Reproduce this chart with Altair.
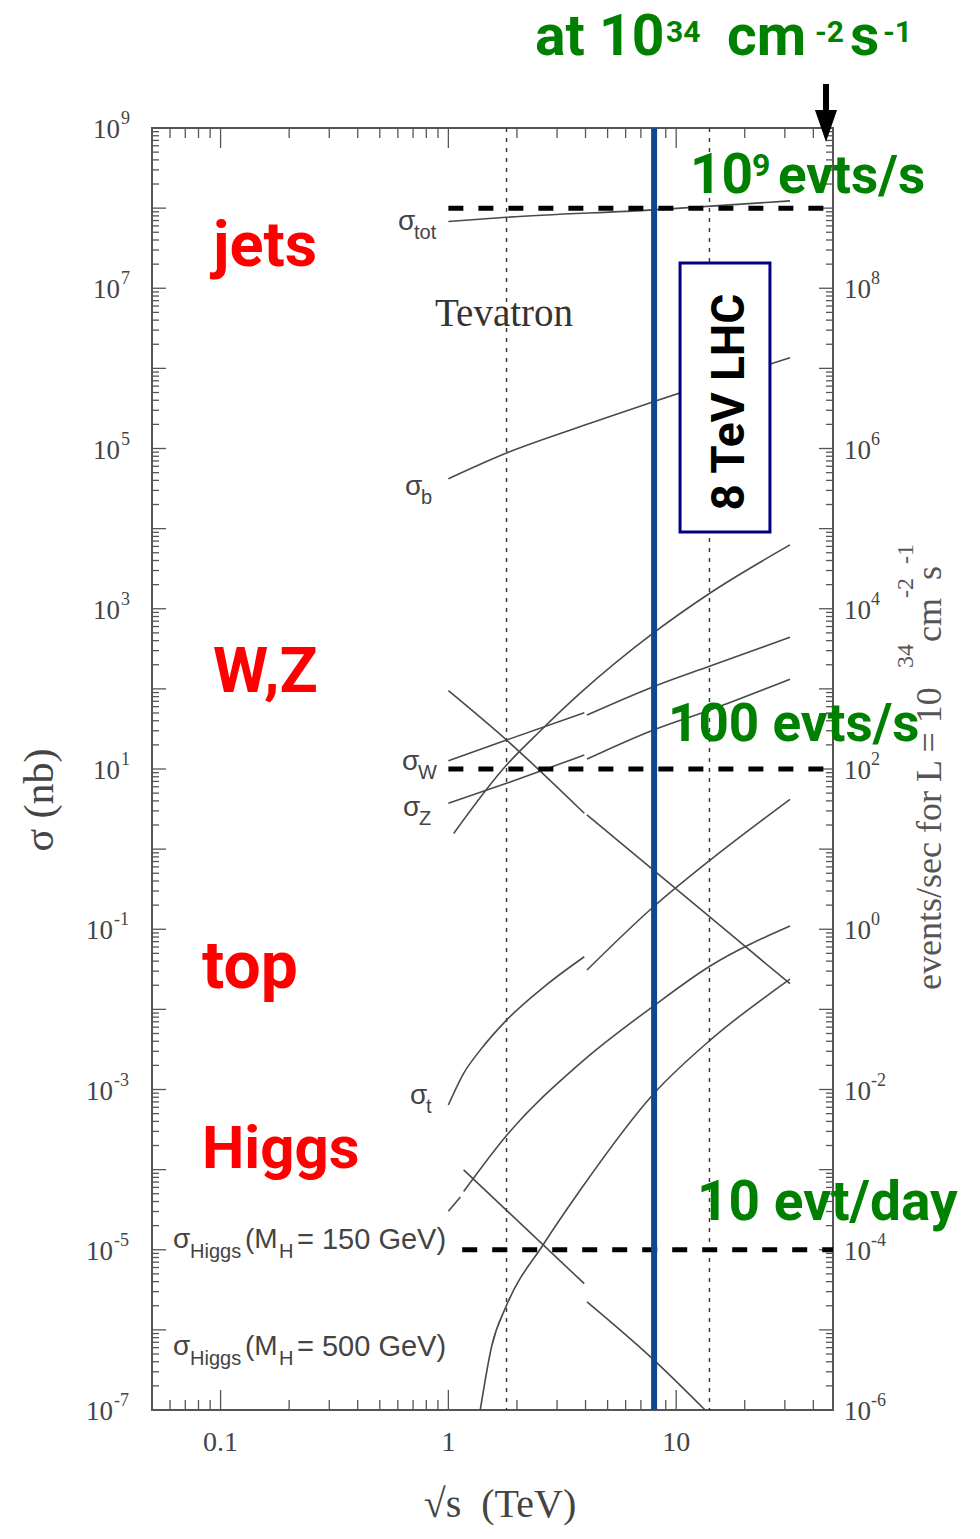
import altair as alt
import pandas as pd

# ---------------- data ----------------
XMIN, XMAX = 0.05, 48.8
YMIN, YMAX = 1e-7, 1e9
W, H = 681, 1282

TOT_X = [1.0, 1.8, 8.0, 31.6]
TOT_Y = [6.8e7, 7.7e7, 9.5e7, 1.23e8]
B_X = [1.0, 1.8, 3.8, 8.0, 31.6]
B_Y = [4.2e4, 8.8e4, 1.88e5, 3.85e5, 1.36e6]
JET_X = [1.055, 1.8, 2.53, 3.8, 7.95, 14.1, 31.6]
JET_Y = [1.57, 11.2, 29.8, 88.9, 499, 1574, 6260]
W_PPBAR_X = [1.0, 1.8, 3.95]
W_PPBAR_Y = [12.7, 23.0, 50.5]
W_PP_X = [4.06, 7.95, 14.1, 31.6]
W_PP_Y = [47.2, 106.6, 193, 441]
Z_PPBAR_X = [1.0, 1.8, 3.95]
Z_PPBAR_Y = [3.73, 6.63, 15.0]
Z_PP_X = [4.06, 7.95, 14.1, 31.6]
Z_PP_Y = [13.3, 30.7, 54.5, 132]
JD_PPBAR_X = [1.0, 1.8, 3.95]
JD_PPBAR_Y = [95, 23.0, 2.80]
JD_PP_X = [4.06, 7.95, 20.4, 31.6]
JD_PP_Y = [2.67, 0.548, 0.0588, 0.0209]
T_PPBAR_X = [1.0, 1.167, 1.38, 1.8, 2.71, 3.95]
T_PPBAR_Y = [6.4e-4, 1.59e-3, 3.1e-3, 7.35e-3, 0.0205, 0.0454]
T_PP_X = [4.06, 7.95, 14.1, 31.6]
T_PP_Y = [0.031, 0.191, 0.731, 4.19]
H150_A_X = [1.0, 1.129]
H150_A_Y = [3.03e-5, 4.56e-5]
H150_B_X = [1.167, 1.8, 3.8, 7.95, 14.1, 31.6]
H150_B_Y = [5.33e-5, 2.67e-4, 2.14e-3, 0.011, 0.0348, 0.1096]
H500_X = [1.38, 1.55, 1.8, 2.62, 3.8, 7.95, 14.1, 31.6]
H500_Y = [1e-7, 6.3e-7, 2.02e-6, 1.18e-5, 5.61e-5, 8.8e-4, 4.13e-3, 0.0238]
J4_PPBAR_X = [1.167, 3.95]
J4_PPBAR_Y = [9.93e-5, 3.77e-6]
J4_PP_X = [4.06, 7.95, 13.4]
J4_PP_Y = [2.24e-6, 4.26e-7, 1e-7]

HLINE_Y = [1e8, 10, 1e-5]
HLINE_X0 = [1.0, 1.0, 1.15]
VLINE_X = [1.8, 14.0]
LHC8_X = [8.0]
BOX_X = [10.4, 25.8]
BOX_Y = [2.07e7, 9.1e3]

LEFT_EXP = [9, 7, 5, 3, 1, -1, -3, -5, -7]
RIGHT_EXP = [8, 6, 4, 2, 0, -2, -4, -6]
X_LABELS = [0.1, 1, 10]
X_LABEL_TEXT = ["0.1", "1", "10"]

X_MAJOR = [0.1, 1, 10]
X_MINOR = [0.06, 0.07, 0.08, 0.09, 0.2, 0.3, 0.4, 0.5, 0.6, 0.7, 0.8, 0.9,
           2, 3, 4, 5, 6, 7, 8, 9, 20, 30, 40]
Y_MAJOR = [10.0 ** e for e in range(-7, 10)]
Y_MINOR = [m * 10.0 ** e for e in range(-7, 9) for m in range(2, 10)]

# ---------------- build tables ----------------
segs = [
    ("tot", TOT_X, TOT_Y), ("b", B_X, B_Y), ("jet", JET_X, JET_Y),
    ("w1", W_PPBAR_X, W_PPBAR_Y), ("w2", W_PP_X, W_PP_Y),
    ("z1", Z_PPBAR_X, Z_PPBAR_Y), ("z2", Z_PP_X, Z_PP_Y),
    ("jd1", JD_PPBAR_X, JD_PPBAR_Y), ("jd2", JD_PP_X, JD_PP_Y),
    ("t1", T_PPBAR_X, T_PPBAR_Y), ("t2", T_PP_X, T_PP_Y),
    ("h1a", H150_A_X, H150_A_Y), ("h1b", H150_B_X, H150_B_Y),
    ("h5", H500_X, H500_Y),
    ("j41", J4_PPBAR_X, J4_PPBAR_Y), ("j42", J4_PP_X, J4_PP_Y),
]
rows = []
for name, xs_, ys_ in segs:
    for i, (a, b) in enumerate(zip(xs_, ys_)):
        rows.append({"seg": name, "x": a, "y": b, "i": i})
curves = pd.DataFrame(rows)

xs = alt.Scale(type="log", domain=[XMIN, XMAX], nice=False)
ys = alt.Scale(type="log", domain=[YMIN, YMAX], nice=False)
AX = "#555555"
GREY = "#444444"
SANS = "Liberation Sans"
SERIF = "Liberation Serif"
BOLD = "Roboto"
GREEN = "#008000"
RED = "#ff0000"

X = lambda f: alt.X(f, scale=xs, axis=None)
Y = lambda f: alt.Y(f, scale=ys, axis=None)

dummy = pd.DataFrame({"d": [0]})


def txt(s, x, y, size, font, color, weight="normal", align="left",
        baseline="alphabetic", angle=0):
    return alt.Chart(dummy).mark_text(
        text=s, fontSize=size, font=font, color=color, fontWeight=weight,
        align=align, baseline=baseline, angle=angle
    ).encode(x=alt.value(x), y=alt.value(y))


layers = []

# ticks (inward)
ymaj = pd.DataFrame({"v": Y_MAJOR})
ymin = pd.DataFrame({"v": Y_MINOR})
xmaj = pd.DataFrame({"v": X_MAJOR})
xmin = pd.DataFrame({"v": X_MINOR})
for d, L in ((ymaj, 14), (ymin, 7)):
    layers.append(alt.Chart(d).mark_rule(color=AX, strokeWidth=1.3).encode(
        y=Y("v:Q"), x=alt.value(0), x2=alt.value(L)))
    layers.append(alt.Chart(d).mark_rule(color=AX, strokeWidth=1.3).encode(
        y=Y("v:Q"), x=alt.value(W), x2=alt.value(W - L)))
for d, L in ((xmaj, 20), (xmin, 10)):
    layers.append(alt.Chart(d).mark_rule(color=AX, strokeWidth=1.3).encode(
        x=X("v:Q"), y=alt.value(H), y2=alt.value(H - L)))
    layers.append(alt.Chart(d).mark_rule(color=AX, strokeWidth=1.3).encode(
        x=X("v:Q"), y=alt.value(0), y2=alt.value(L)))

# dotted collider lines
layers.append(alt.Chart(pd.DataFrame({"x": VLINE_X})).mark_rule(
    color="#333333", strokeWidth=1.4, strokeDash=[4, 6]).encode(x=X("x:Q")))

# curves
layers.append(alt.Chart(curves).mark_line(
    color="#4a4a4a", strokeWidth=1.6, interpolate="monotone").encode(
    x=X("x:Q"), y=Y("y:Q"), detail="seg:N", order="i:Q"))

# dashed rate lines
hl = pd.DataFrame({"y": HLINE_Y, "x0": HLINE_X0, "x1": [XMAX] * len(HLINE_Y)})
layers.append(alt.Chart(hl).mark_rule(
    color="black", strokeWidth=5, strokeDash=[15, 15]).encode(
    x=X("x0:Q"), x2="x1:Q", y=Y("y:Q")))

# 8 TeV blue line
layers.append(alt.Chart(pd.DataFrame({"x": LHC8_X})).mark_rule(
    color="#0b4a8c", strokeWidth=6).encode(x=X("x:Q")))

# LHC box
box = pd.DataFrame({"x0": [BOX_X[0]], "x1": [BOX_X[1]], "y0": [BOX_Y[0]], "y1": [BOX_Y[1]]})
layers.append(alt.Chart(box).mark_rect(
    fill="white", stroke="#000080", strokeWidth=3).encode(
    x=X("x0:Q"), x2="x1:Q", y=Y("y0:Q"), y2="y1:Q"))
layers.append(txt("8 TeV LHC", 578, 274, 46, BOLD, "black", "bold",
                  align="center", baseline="middle", angle=270))

# left axis labels
lab = pd.DataFrame({"v": [10.0 ** e for e in LEFT_EXP], "e": [str(e) for e in LEFT_EXP],
                    "neg": [e < 0 for e in LEFT_EXP]})
for neg, xb in ((False, -32), (True, -39)):
    sub = lab[lab["neg"] == neg]
    layers.append(alt.Chart(sub).mark_text(
        text="10", font=SERIF, fontSize=27, color=GREY, align="right",
        baseline="middle", dy=2).encode(y=Y("v:Q"), x=alt.value(xb)))
    layers.append(alt.Chart(sub).mark_text(
        font=SERIF, fontSize=18, color=GREY, align="left",
        baseline="middle", dy=-9).encode(y=Y("v:Q"), x=alt.value(xb + 1), text="e:N"))

# right axis labels
rlab = pd.DataFrame({"v": [10.0 ** (e - 1) for e in RIGHT_EXP], "e": [str(e) for e in RIGHT_EXP]})
layers.append(alt.Chart(rlab).mark_text(
    text="10", font=SERIF, fontSize=27, color=GREY, align="left",
    baseline="middle", dy=2).encode(y=Y("v:Q"), x=alt.value(W + 11)))
layers.append(alt.Chart(rlab).mark_text(
    font=SERIF, fontSize=18, color=GREY, align="left",
    baseline="middle", dy=-9).encode(y=Y("v:Q"), x=alt.value(W + 38), text="e:N"))

# bottom labels
blab = pd.DataFrame({"v": X_LABELS, "t": X_LABEL_TEXT})
layers.append(alt.Chart(blab).mark_text(
    font=SERIF, fontSize=28, color=GREY, align="center", baseline="middle").encode(
    x=X("v:Q"), y=alt.value(H + 33), text="t:N"))

# axis titles
layers.append(txt("\u221as\u00a0\u00a0(TeV)", 348, 1377, 40, SERIF, GREY,
                  align="center", baseline="middle"))
layers.append(txt("\u03c3 (nb)", -112, 672, 42, SERIF, GREY,
                  align="center", baseline="middle", angle=270))
layers.append(txt("events/sec for L = 10", 778, 862, 36, SERIF, "#555555",
                  baseline="middle", angle=270))
layers.append(txt("34", 754, 540, 24, SERIF, "#555555", baseline="middle", angle=270))
layers.append(txt("cm", 778, 514, 36, SERIF, "#555555", baseline="middle", angle=270))
layers.append(txt("-2", 754, 470, 24, SERIF, "#555555", baseline="middle", angle=270))
layers.append(txt("s", 778, 452, 36, SERIF, "#555555", baseline="middle", angle=270))
layers.append(txt("-1", 754, 436, 24, SERIF, "#555555", baseline="middle", angle=270))

# curve labels
def sig(x, y, sub, dx=16, dy=11):
    return [txt("\u03c3", x, y, 28, SANS, GREY, baseline="middle"),
            txt(sub, x + dx, y + dy, 20, SANS, GREY, baseline="middle")]

layers += sig(246, 94, "tot")
layers += sig(253, 359, "b")
layers += sig(250, 634, "W")
layers += sig(251, 680, "Z")
layers += sig(258, 968, "t")
for yy, m in ((1112, "150"), (1219, "500")):
    layers += [txt("\u03c3", 21, yy, 28, SANS, GREY, baseline="middle"),
               txt("Higgs", 38, yy + 12, 20, SANS, GREY, baseline="middle"),
               txt("(M", 93, yy, 28, SANS, GREY, baseline="middle"),
               txt("H", 127, yy + 12, 20, SANS, GREY, baseline="middle"),
               txt("= " + m + " GeV)", 145, yy, 29, SANS, GREY, baseline="middle")]
layers.append(txt("Tevatron", 283, 198, 39, SERIF, "#333333"))

# red process labels
layers.append(txt("jets", 61, 138, 63, BOLD, RED, "bold"))
layers.append(txt("W,Z", 61, 564, 63, BOLD, RED, "bold"))
layers.append(txt("top", 50, 860, 66, BOLD, RED, "bold"))
layers.append(txt("Higgs", 50, 1040, 60, BOLD, RED, "bold"))

# green rate labels
layers.append(txt("at 10", 383, -73, 57, BOLD, GREEN, "bold"))
layers.append(txt("34", 514, -86, 30, BOLD, GREEN, "bold"))
layers.append(txt("cm", 575, -73, 57, BOLD, GREEN, "bold"))
layers.append(txt("-2", 663, -86, 30, BOLD, GREEN, "bold"))
layers.append(txt("s", 698, -73, 57, BOLD, GREEN, "bold"))
layers.append(txt("-1", 731, -86, 30, BOLD, GREEN, "bold"))
layers.append(txt("10", 538, 65, 55, BOLD, GREEN, "bold"))
layers.append(txt("9", 600, 48, 32, BOLD, GREEN, "bold"))
layers.append(txt("evts/s", 626, 65, 53, BOLD, GREEN, "bold"))
layers.append(txt("100 evts/s", 516, 613, 53, BOLD, GREEN, "bold"))
layers.append(txt("10 evt/day", 545, 1092, 55, BOLD, GREEN, "bold"))

# arrow
layers.append(alt.Chart(dummy).mark_rule(color="black", strokeWidth=6).encode(
    x=alt.value(674), y=alt.value(-44), y2=alt.value(-16)))
layers.append(alt.Chart(dummy).mark_point(
    shape="M-0.69,-1 L0.69,-1 L0,1 Z", size=1024, filled=True, color="black",
    opacity=1).encode(x=alt.value(674), y=alt.value(-2)))

chart = alt.layer(*layers).properties(
    width=W, height=H,
    padding={"left": 144, "top": 120, "right": 130, "bottom": 115},
    autosize=alt.AutoSizeParams(type="none"),
    background="white",
).configure_view(stroke=AX, strokeWidth=2)

chart.save("out.html", embed_options={"renderer": "svg", "actions": False})
